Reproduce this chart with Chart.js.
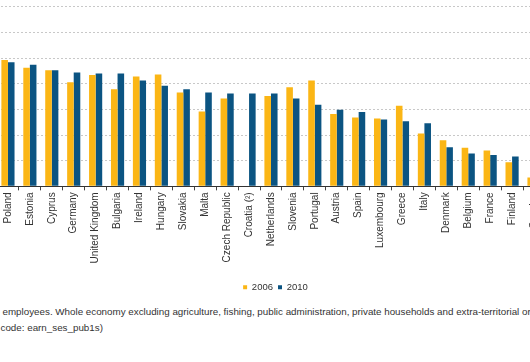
<!DOCTYPE html>
<html>
<head>
<meta charset="utf-8">
<script src="https://cdn.jsdelivr.net/npm/chart.js@4/dist/chart.umd.min.js"></script>
<style>
  html, body { margin:0; padding:0; width:530px; height:362px; overflow:hidden; background:#fff; }
  #wrap { position:absolute; left:-3px; top:0; width:551px; height:302px; }
  .note { position:absolute; white-space:nowrap; font-family:"Liberation Sans", Arial, sans-serif; font-size:9.8px; line-height:12px; color:#333; }
</style>
</head>
<body>
<div id="wrap"><canvas id="c"></canvas></div>
<div class="note" style="left:2.5px; top:306px;">employees. Whole economy excluding agriculture, fishing, public administration, private households and extra-territorial organisations</div>
<div class="note" style="left:0.5px; top:322px;">code: earn_ses_pub1s)</div>
<script>
const categories = ['Poland','Estonia','Cyprus','Germany','United Kingdom','Bulgaria','Ireland','Hungary','Slovakia','Malta','Czech Republic','Croatia (²)','Netherlands','Slovenia','Portugal','Austria','Spain','Luxembourg','Greece','Italy','Denmark','Belgium','France','Finland','Sweden'];
const series2006 = [24.6, 23.1, 22.6, 20.3, 21.7, 18.9, 21.4, 21.8, 18.3, 14.6, 17.1, null, 17.6, 19.3, 20.6, 14.1, 13.4, 13.2, 15.7, 10.3, 9.0, 7.5, 7.0, 4.7, 1.7];
const series2010 = [24.2, 23.7, 22.6, 22.2, 22.0, 22.0, 20.6, 19.6, 18.9, 18.3, 18.1, 18.1, 18.1, 17.1, 15.9, 14.9, 14.5, 13.0, 12.7, 12.3, 7.6, 6.4, 6.1, 5.8, null];
const seriesLabels = ['2006', '2010'];
const yTicks = [0, 5, 10, 15, 20, 25, 30, 35];

const FONT = '"Liberation Sans", Arial, sans-serif';
const shiftLegend = {
  id: 'shiftLegend',
  afterLayout(chart) {
    if (chart.legend) { chart.legend.left += 3; chart.legend.right += 3; }
  }
};
new Chart(document.getElementById('c'), {
  type: 'bar',
  data: {
    labels: categories,
    datasets: [
      { label: seriesLabels[0], data: series2006, backgroundColor: '#FBB615', borderWidth: 0 },
      { label: seriesLabels[1], data: series2010, backgroundColor: '#0B5482', borderWidth: 0 }
    ]
  },
  plugins: [shiftLegend],
  options: {
    responsive: true,
    maintainAspectRatio: false,
    animation: false,
    layout: { padding: { top: 6.7, left: 0, right: 0, bottom: 0 } },
    datasets: { bar: { categoryPercentage: 0.6, barPercentage: 1.0 } },
    plugins: {
      tooltip: { enabled: false },
      legend: {
        position: 'bottom',
        labels: { boxWidth: 4, boxHeight: 4, padding: 5, color: '#333', font: { family: FONT, size: 9.5 } }
      }
    },
    scales: {
      x: {
        afterFit: (s) => { s.height += 12; },
        grid: { display: true, drawOnChartArea: false, drawTicks: true, tickLength: 4, color: '#444' },
        border: { display: true, color: '#333', width: 1 },
        ticks: { autoSkip: false, minRotation: 90, maxRotation: 90, padding: 2, color: '#333', font: { family: FONT, size: 10 } }
      },
      y: {
        min: yTicks[0], max: yTicks[yTicks.length - 1],
        afterBuildTicks: (s) => { s.ticks = yTicks.map(v => ({ value: v })); },
        grid: { color: '#c8c8c8', drawTicks: false, lineWidth: 1 },
        border: { display: false, dash: [2, 2] },
        ticks: { display: false }
      }
    }
  }
});
</script>
</body>
</html>
